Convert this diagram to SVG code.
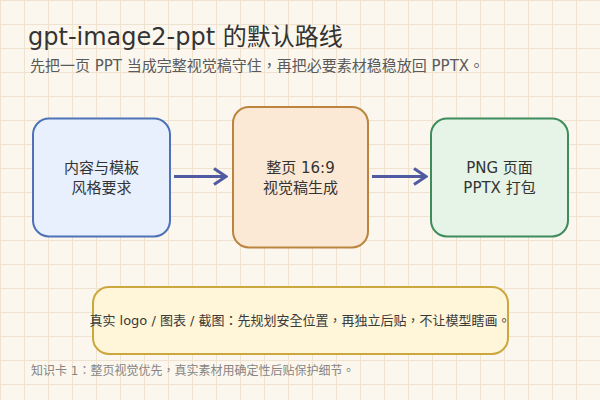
<svg xmlns="http://www.w3.org/2000/svg" width="600" height="400" viewBox="0 0 600 400" xml:lang="zh-TW">
<style>
text{font-family:"DejaVu Sans","Noto Sans CJK TC",sans-serif;}
.title{font-size:24px;fill:#333;}
.sub{font-size:15px;fill:#5a5a5a;}
.node rect{stroke-width:2;}
.lbl{font-size:15px;fill:#333;text-anchor:middle;}
.note{font-size:13px;fill:#3a3a3a;text-anchor:middle;}
.foot{font-size:12px;fill:#858585;}
.conn{stroke:#4f5aa0;stroke-width:3;fill:none;}
</style>
<defs>
<pattern id="grid" width="24" height="24" patternUnits="userSpaceOnUse">
<rect width="24" height="24" fill="#fbf7ee"/>
<rect x="0" y="0" width="24" height="1" fill="#efe2cf"/>
<rect x="0" y="0" width="1" height="24" fill="#efe2cf"/>
</pattern>
<marker id="chev" viewBox="0 0 16 20" refX="14" refY="10" markerWidth="16" markerHeight="20" markerUnits="userSpaceOnUse" orient="auto">
<path d="M2 2 L14 10 L2 18" fill="none" stroke="#4f5aa0" stroke-width="3"/>
</marker>
</defs>
<rect width="600" height="400" fill="url(#grid)"/>
<text class="title" x="28" y="45">gpt-image2-ppt 的默认路线</text>
<text class="sub" x="30" y="71">先把一页 PPT 当成完整视觉稿守住，再把必要素材稳稳放回 PPTX。</text>
<g id="connectors">
<path class="conn" d="M174 176.5 H226" marker-end="url(#chev)"/>
<path class="conn" d="M372 176.5 H426" marker-end="url(#chev)"/>
</g>
<g id="node-input" class="node">
<rect x="33" y="118.5" width="137" height="118" rx="16" fill="#e8f0fd" stroke="#4e72b8"/>
<text class="lbl" x="101.5" y="173">内容与模板</text>
<text class="lbl" x="101.5" y="193">风格要求</text>
</g>
<g id="node-render" class="node">
<rect x="233" y="107" width="135" height="140.5" rx="16" fill="#fbe9d5" stroke="#bb8540"/>
<text class="lbl" x="300.5" y="173">整页 16:9</text>
<text class="lbl" x="300.5" y="193">视觉稿生成</text>
</g>
<g id="node-output" class="node">
<rect x="431" y="118.5" width="137" height="118" rx="16" fill="#e5f4e6" stroke="#3e8b5c"/>
<text class="lbl" x="499.5" y="173">PNG 页面</text>
<text class="lbl" x="499.5" y="193">PPTX 打包</text>
</g>
<g id="node-note" class="node">
<rect x="93" y="287" width="415" height="67" rx="16" fill="#fff5d8" stroke="#cca73e"/>
<text class="note" x="300" y="325">真实 logo / 图表 / 截图：先规划安全位置，再独立后贴，不让模型瞎画。</text>
</g>
<text class="foot" x="31" y="375">知识卡 1：整页视觉优先，真实素材用确定性后贴保护细节。</text>
</svg>
